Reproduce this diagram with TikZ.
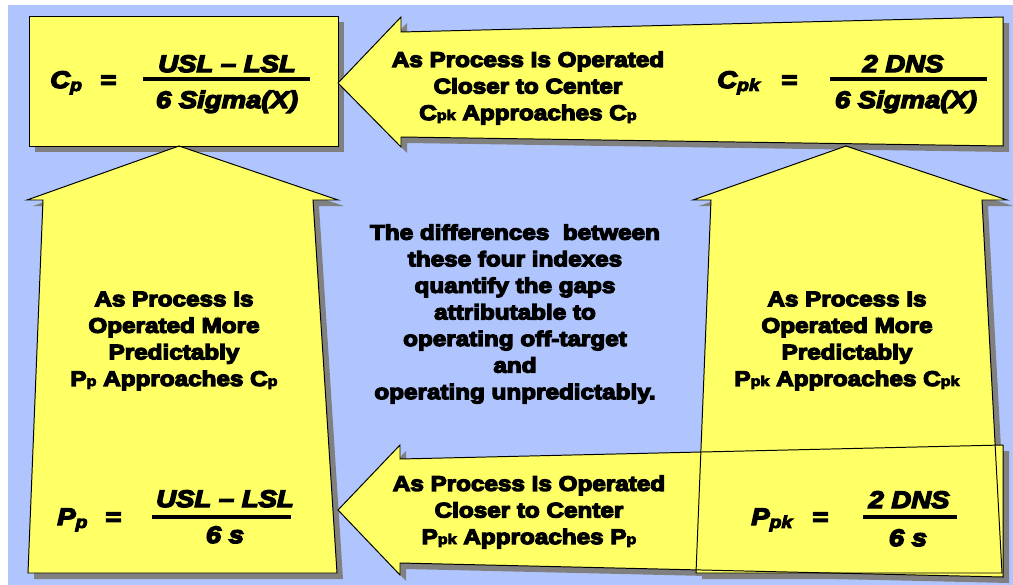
\documentclass[tikz,border=0pt]{standalone}
\usepackage{fontspec}
\setmainfont{Liberation Sans}[FakeStretch=1.15]
\newfontfamily\heavyfont{Liberation Sans Bold}[FakeStretch=1.15, FakeBold=6, Ligatures=TeX]
\newfontfamily\heavyitfont{Liberation Sans Bold Italic}[FakeStretch=1.15, FakeBold=6, Ligatures=TeX]

\definecolor{bgblue}{RGB}{176,197,253}
\definecolor{noteyellow}{RGB}{255,255,102}
\definecolor{shadowgray}{RGB}{128,128,128}

% small index letters (C_pk etc.)
\newcommand{\sub}[1]{{\fontsize{10}{10}\selectfont #1}}
\newcommand{\fsub}[1]{\raisebox{-0.12em}{\fontsize{12}{12}\selectfont #1}}

% outlines of the five yellow shapes (pixel grid, y going down)
\def\cpboxpath{(29,16) rectangle (338,146)}
\def\toparrowpath{(338,83) -- (401,17) -- (401,32) -- (1003,17) -- (1003,146) -- (401,137) -- (401,147) -- cycle}
\def\leftarrowpath{(179,146) -- (338,200) -- (313,200) -- (337,573) -- (28,573) -- (43,200) -- (27,200) -- cycle}
\def\rightarrowpath{(846,146) -- (1007,200) -- (982,200) -- (1002,573) -- (696,573) -- (711,200) -- (693,200) -- cycle}
\def\bottomarrowpath{(338,510) -- (400,445) -- (400,459) -- (1003,445) -- (1003,577) -- (400,563) -- (400,575) -- cycle}

\begin{document}
\begin{tikzpicture}[x=0.025cm, y=-0.025cm,
  note/.style={font=\fontsize{15}{18.9}\selectfont\heavyfont, align=center, inner sep=0pt},
  formula/.style={font=\fontsize{17}{20}\selectfont\heavyitfont, inner sep=0pt},
  fracbar/.style={line width=2.2pt}]

  % --- canvas ---
  \useasboundingbox (0,0) rectangle (1013,585);
  \fill[white] (0,0) rectangle (1013,585);
  \fill[bgblue] (8,5) rectangle (1013,585);

  % --- shapes: shadows, then fills, then outlines ---
  \foreach \shp in {\cpboxpath,\toparrowpath,\leftarrowpath,\rightarrowpath,\bottomarrowpath}{
    \fill[shadowgray, shift={(6,6)}] \shp;
  }
  \foreach \shp in {\cpboxpath,\toparrowpath,\leftarrowpath,\rightarrowpath,\bottomarrowpath}{
    \fill[noteyellow] \shp;
  }
  \foreach \shp in {\cpboxpath,\toparrowpath,\leftarrowpath,\rightarrowpath,\bottomarrowpath}{
    \draw[line width=0.7pt, line join=miter] \shp;
  }

  % --- C_p ---
  \node[formula, anchor=base west] (cplhs) at (50,88) {C\fsub{p}};
  \node[formula, anchor=base] (cpeq) at (108,88) {=};
  \node[formula, anchor=base] (cpnum) at (227,72) {USL – LSL};
  \node[formula, anchor=base] (cpden) at (227,108) {6 Sigma(X)};
  \draw[fracbar] (143,79) -- (310,79);

  % --- C_pk ---
  \node[formula, anchor=base west] (cpklhs) at (717,88) {C\fsub{pk}};
  \node[formula, anchor=base] (cpkeq) at (789,88) {=};
  \node[formula, anchor=base] (cpknum) at (903,72) {2 DNS};
  \node[formula, anchor=base] (cpkden) at (906,108) {6 Sigma(X)};
  \draw[fracbar] (830,79) -- (987,79);

  % --- P_p ---
  \node[formula, anchor=base west] (pplhs) at (57,525) {P\fsub{p}};
  \node[formula, anchor=base] (ppeq) at (113,525) {=};
  \node[formula, anchor=base] (ppnum) at (225,507) {USL – LSL};
  \node[formula, anchor=base] (ppden) at (225,543) {6 s};
  \draw[fracbar] (152,517) -- (291,517);

  % --- P_pk ---
  \node[formula, anchor=base west] (ppklhs) at (751,525) {P\fsub{pk}};
  \node[formula, anchor=base] (ppkeq) at (820,525) {=};
  \node[formula, anchor=base] (ppknum) at (909,508) {2 DNS};
  \node[formula, anchor=base] (ppkden) at (908,546) {6 s};
  \draw[fracbar] (863,517) -- (957,517);

  % --- arrow texts ---
  \node[note] (topnote) at (528,88) {As Process Is Operated\\Closer to Center\\C\sub{pk} Approaches C\sub{p}};
  \node[note] (leftnote) at (174,341) {As Process Is\\Operated More\\Predictably\\P\sub{p} Approaches C\sub{p}};
  \node[note] (rightnote) at (847,341) {As Process Is\\Operated More\\Predictably\\P\sub{pk} Approaches C\sub{pk}};
  \node[note] (bottomnote) at (529,512) {As Process Is Operated\\Closer to Center\\P\sub{pk} Approaches P\sub{p}};

  % --- middle text ---
  \node[note] (midnote) at (515,314) {The differences \ between\\these four indexes\\quantify the gaps\\attributable to\\operating off-target\\and\\operating unpredictably.};

\end{tikzpicture}
\end{document}
